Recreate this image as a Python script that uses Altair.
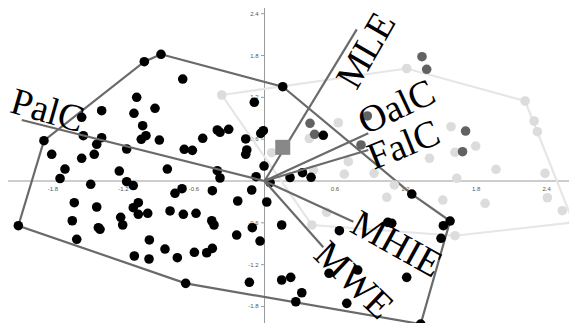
import altair as alt
import pandas as pd

# ---------------- data ----------------
black_x = [-0.881, -1.023, -0.696, -1.088, -0.087, -1.386, -0.932, -1.111, -1.556, -1.037,
           -0.402, -0.379, -0.305, -0.032, -0.010, -1.542, -1.386, -1.009, -1.049, -0.895,
           -0.526, -0.160, -1.877, -1.428, -1.173, -0.683, -0.614, -0.151, -0.160, -1.811,
           -1.449, -1.556, -0.004, -1.698, -1.236, -0.827, -0.402, -0.379, -0.072, -1.740,
           -1.479, -1.173, -1.117, -0.702, -0.762, -0.444, -0.109, -0.228, 0.019, -1.619,
           -1.428, -1.074, -1.117, -1.074, -0.994, -0.804, -0.691, -0.583, -1.636, -1.224,
           -1.207, -1.414, -1.400, -0.449, -0.430, -0.104, -0.237, -0.038, -2.095, -1.598,
           -0.980, -0.847, -0.742, -0.597, -0.492, -0.444, -1.108, -0.983, -0.671, -0.129,
           0.155, 0.500, 0.217, 0.323, 0.396, 0.047, 1.253, 0.146, 0.637, 1.049,
           1.083, 1.522, 1.579, 1.502, 0.549, 0.793, 1.210, 0.146, 0.223, 0.317,
           0.266, 0.700, 1.329]
black_y = [1.818, 1.712, 1.463, 1.201, 1.129, 1.009, 1.043, 0.971, 0.914, 0.793,
           0.732, 0.699, 0.742, 0.684, 0.722, 0.650, 0.621, 0.650, 0.598, 0.588,
           0.613, 0.603, 0.578, 0.527, 0.459, 0.455, 0.440, 0.445, 0.383, 0.383,
           0.383, 0.326, 0.215, 0.172, 0.143, 0.172, 0.148, 0.043, 0.062, 0.036,
           -0.047, -0.010, -0.065, -0.110, -0.176, -0.139, -0.129, -0.287, -0.301, -0.311,
           -0.373, -0.311, -0.383, -0.478, -0.463, -0.430, -0.478, -0.463, -0.570, -0.521,
           -0.631, -0.670, -0.693, -0.570, -0.631, -0.670, -0.775, -0.861, -0.641, -0.836,
           -0.846, -0.976, -1.100, -1.023, -1.029, -0.966, -1.076, -1.119, -1.468, -1.453,
           1.353, 0.656, 0.050, 0.119, 0.053, -0.022, -0.187, -0.631, -0.713, -0.593,
           -0.607, -0.641, -0.574, -0.822, -1.324, -1.277, -1.382, -1.420, -1.382, -1.603,
           -1.732, -1.755, -2.052]

dark_x = [0.387, 0.426, 0.875, 0.821, 1.340, 1.380, 1.711, 1.685]
dark_y = [0.828, 0.670, 0.933, 0.517, 1.783, 1.603, 0.717, 0.420]

light_x = [-0.364, 1.210, 2.217, 2.294, 2.322, 0.628, 0.381, 0.061, 1.587, 1.797,
           1.621, 1.404, 0.713, 0.415, 0.679, 0.932, 1.636, 1.970, 2.387, 1.105,
           1.040, 1.517, 1.877, 2.407, 2.534, 2.628, 1.621, 0.529, 0.402]
light_y = [1.234, 1.614, 1.148, 0.861, 0.707, 0.836, 0.610, 0.406, 0.779, 0.502,
           0.412, 0.326, 0.277, 0.158, 0.100, 0.110, 0.039, 0.168, 0.110, -0.057,
           -0.234, -0.273, -0.320, -0.240, -0.426, -0.593, -0.785, -0.449, -0.631]

black_hull_x = [-0.881, 0.155, 1.253, 1.579, 1.329, -0.671, -2.095, -1.877, -1.023, -0.881]
black_hull_y = [1.818, 1.353, -0.187, -0.574, -2.052, -1.468, -0.641, 0.578, 1.712, 1.818]

light_hull_x = [-0.364, 1.210, 2.217, 2.628, 1.621, 0.402, -0.364]
light_hull_y = [1.234, 1.614, 1.148, -0.593, -0.785, -0.631, 1.234]

vec_names = ["PalC", "MLE", "OalC", "FalC", "MHIE", "MWE"]
vec_x = [-2.066, 0.785, 0.883, 0.883, 0.756, 0.500]
vec_y = [0.875, 2.176, 0.684, 0.445, -0.584, -0.951]
label_x = [-1.850, 0.872, 1.128, 1.187, 1.119, 0.753]
label_y = [0.994, 1.865, 1.047, 0.502, -0.918, -1.435]
label_angle = [16, 300, 335, 338, 29, 44]

square_x = [0.155]
square_y = [0.483]

xtick_vals = [-1.8, -1.2, -0.6, 0.6, 1.2, 1.8, 2.4]
ytick_vals = [2.4, 1.8, 1.2, 0.6, -0.6, -1.2, -1.8]

X_DOM = [-2.183, 2.591]
Y_DOM = [-2.037, 2.482]

# ---------------- chart ----------------
xs = alt.Scale(domain=X_DOM, nice=False, zero=False)
ys = alt.Scale(domain=Y_DOM, nice=False, zero=False)
X = lambda f: alt.X(f, type="quantitative", scale=xs, axis=None)
Y = lambda f: alt.Y(f, type="quantitative", scale=ys, axis=None)

AX = "#9a9a9a"
LINE = "#6a6a6a"

zero_df = pd.DataFrame({"v": [0.0]})
vaxis = alt.Chart(zero_df).mark_rule(color=AX, strokeWidth=1).encode(x=X("v"))
haxis = alt.Chart(zero_df).mark_rule(color=AX, strokeWidth=1).encode(y=Y("v"))

xt = pd.DataFrame({"v": xtick_vals, "z": [0.0] * len(xtick_vals),
                   "t": [f"{v:.1f}" for v in xtick_vals]})
yt = pd.DataFrame({"v": ytick_vals, "z": [0.0] * len(ytick_vals), "z0": [-0.03] * len(ytick_vals),
                   "t": [f"{v:.1f}" for v in ytick_vals]})
xlab = alt.Chart(xt).mark_text(fontSize=6, font="Liberation Sans", color="#555", dy=8).encode(
    x=X("v"), y=Y("z"), text="t:N")
ylab = alt.Chart(yt).mark_text(fontSize=6, font="Liberation Sans", color="#555", align="right",
                               baseline="middle", dx=-6).encode(x=X("z"), y=Y("v"), text="t:N")
ytick = alt.Chart(yt).mark_rule(color=AX, strokeWidth=1).encode(x=X("z0"), x2="z", y=Y("v"))

lh = pd.DataFrame({"x": light_hull_x, "y": light_hull_y, "o": range(len(light_hull_x))})
bh = pd.DataFrame({"x": black_hull_x, "y": black_hull_y, "o": range(len(black_hull_x))})
light_hull = alt.Chart(lh).mark_line(color="#e6e6e6", strokeWidth=2.2).encode(
    x=X("x"), y=Y("y"), order="o:Q")
black_hull = alt.Chart(bh).mark_line(color=LINE, strokeWidth=2.2).encode(
    x=X("x"), y=Y("y"), order="o:Q")

PT = 92
light_pts = alt.Chart(pd.DataFrame({"x": light_x, "y": light_y})).mark_circle(
    size=PT, color="#dcdcdc", opacity=1).encode(x=X("x"), y=Y("y"))
dark_pts = alt.Chart(pd.DataFrame({"x": dark_x, "y": dark_y})).mark_circle(
    size=PT, color="#626262", opacity=1).encode(x=X("x"), y=Y("y"))
black_pts = alt.Chart(pd.DataFrame({"x": black_x, "y": black_y})).mark_circle(
    size=PT, color="#000000", opacity=1).encode(x=X("x"), y=Y("y"))

vdf = pd.DataFrame({"name": vec_names, "x0": [0.0] * 6, "y0": [0.0] * 6,
                    "x": vec_x, "y": vec_y, "lx": label_x, "ly": label_y, "a": label_angle})
vectors = alt.Chart(vdf).mark_rule(color=LINE, strokeWidth=2.2).encode(
    x=X("x0"), y=Y("y0"), x2="x", y2="y")
labels = alt.Chart(vdf).mark_text(font="Liberation Serif", fontSize=38, color="#000",
                                  align="center", baseline="middle").encode(
    x=X("lx"), y=Y("ly"), text="name:N", angle=alt.Angle("a:Q", scale=None))

square = alt.Chart(pd.DataFrame({"x": square_x, "y": square_y})).mark_square(
    size=225, color="#888888", opacity=1).encode(x=X("x"), y=Y("y"))

chart = alt.layer(
    vaxis, haxis, ytick, xlab, ylab, light_hull, black_hull,
    light_pts, dark_pts, black_pts, vectors, square, labels
).properties(width=561, height=315, padding=0, autosize="none").configure_view(stroke=None)

chart.save("out.html", embed_options={"renderer": "svg", "actions": False})
